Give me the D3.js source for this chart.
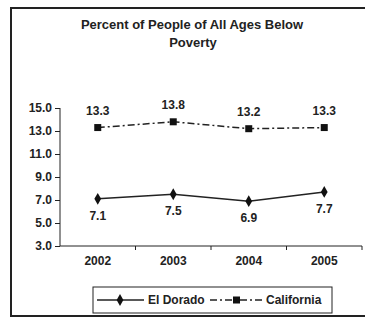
<!DOCTYPE html>
<html>
<head>
<meta charset="utf-8">
<script src="https://cdn.jsdelivr.net/npm/d3@7"></script>
<style>
  body { margin: 0; background: #fff; overflow: hidden; }
  text { font-family: "Liberation Sans", Arial, sans-serif; fill: #222; }
</style>
</head>
<body>
<div id="chart"></div>
<script>
var years = ["2002", "2003", "2004", "2005"];
var elDorado = [7.1, 7.5, 6.9, 7.7];
var california = [13.3, 13.8, 13.2, 13.3];
var yTicks = [3, 5, 7, 9, 11, 13, 15];

var width = 365, height = 318;

var svg = d3.select("#chart")
    .append("svg")
    .attr("width", width)
    .attr("height", height)
    .style("display", "block");

// outer frame (right side falls off the picture)
svg.append("rect")
    .attr("x", 11).attr("y", 8)
    .attr("width", 370).attr("height", 308)
    .attr("fill", "none")
    .attr("stroke", "#222")
    .attr("stroke-width", 2);

svg.append("text")
    .attr("x", 192).attr("y", 29)
    .attr("text-anchor", "middle")
    .style("font-size", "13px").style("font-weight", "bold")
    .text("Percent of People of All Ages Below");
svg.append("text")
    .attr("x", 193).attr("y", 47)
    .attr("text-anchor", "middle")
    .style("font-size", "13px").style("font-weight", "bold")
    .text("Poverty");

var x = d3.scaleBand().domain(years).range([60, 362]);
var y = d3.scaleLinear().domain([3, 15]).range([246, 108]);

var fs = "12px";

// y axis
var yAxis = svg.append("g")
    .attr("transform", "translate(60,0)")
    .call(d3.axisLeft(y).tickValues(yTicks).tickSize(5).tickPadding(3)
        .tickFormat(d3.format(".1f")));
yAxis.select(".domain").attr("stroke", "#222").attr("d", "M0," + y(15) + "V" + y(3));
yAxis.selectAll("line").attr("stroke", "#222");
yAxis.selectAll("text")
    .style("font-size", fs).style("font-weight", "bold")
    .style("font-family", "'Liberation Sans', Arial, sans-serif")
    .attr("fill", "#222");

// x axis, ticks on category boundaries
svg.append("line")
    .attr("x1", 60).attr("x2", 362)
    .attr("y1", 246).attr("y2", 246)
    .attr("stroke", "#222");
svg.selectAll(".xtick")
    .data(years)
    .enter().append("line")
    .attr("x1", function (d) { return x(d) + x.bandwidth(); })
    .attr("x2", function (d) { return x(d) + x.bandwidth(); })
    .attr("y1", 246).attr("y2", 250)
    .attr("stroke", "#222");
svg.selectAll(".xlabel")
    .data(years)
    .enter().append("text")
    .attr("x", function (d) { return x(d) + x.bandwidth() / 2; })
    .attr("y", 265)
    .attr("text-anchor", "middle")
    .style("font-size", fs).style("font-weight", "bold")
    .text(function (d) { return d; });

var cx = function (d, i) { return x(years[i]) + x.bandwidth() / 2; };

var line = d3.line()
    .x(function (d, i) { return cx(d, i); })
    .y(function (d) { return y(d); });

// California
svg.append("path")
    .datum(california)
    .attr("d", line)
    .attr("fill", "none")
    .attr("stroke", "#222")
    .attr("stroke-width", 1.5)
    .attr("stroke-dasharray", "7,3,2,3");
svg.selectAll(".sq")
    .data(california)
    .enter().append("rect")
    .attr("x", function (d, i) { return cx(d, i) - 3.5; })
    .attr("y", function (d) { return y(d) - 3.5; })
    .attr("width", 7).attr("height", 7)
    .attr("fill", "#111");
svg.selectAll(".calab")
    .data(california)
    .enter().append("text")
    .attr("x", cx)
    .attr("y", function (d) { return y(d) - 13; })
    .attr("text-anchor", "middle")
    .style("font-size", fs).style("font-weight", "bold")
    .text(function (d) { return d.toFixed(1); });

// El Dorado
svg.append("path")
    .datum(elDorado)
    .attr("d", line)
    .attr("fill", "none")
    .attr("stroke", "#222")
    .attr("stroke-width", 1.5);
var diamond = d3.symbol().type(d3.symbolDiamond).size(40);
svg.selectAll(".dm")
    .data(elDorado)
    .enter().append("path")
    .attr("d", diamond)
    .attr("transform", function (d, i) { return "translate(" + cx(d, i) + "," + y(d) + ")"; })
    .attr("fill", "#111");
svg.selectAll(".edlab")
    .data(elDorado)
    .enter().append("text")
    .attr("x", cx)
    .attr("y", function (d) { return y(d) + 21; })
    .attr("text-anchor", "middle")
    .style("font-size", fs).style("font-weight", "bold")
    .text(function (d) { return d.toFixed(1); });

// legend
var lg = svg.append("g");
lg.append("rect")
    .attr("x", 93).attr("y", 287)
    .attr("width", 239).attr("height", 26)
    .attr("fill", "none").attr("stroke", "#222").attr("stroke-width", 1);
lg.append("line")
    .attr("x1", 97).attr("x2", 144).attr("y1", 300).attr("y2", 300)
    .attr("stroke", "#222").attr("stroke-width", 1.5);
lg.append("path").attr("d", diamond)
    .attr("transform", "translate(120,300)").attr("fill", "#111");
lg.append("text")
    .attr("x", 148).attr("y", 304)
    .style("font-size", fs).style("font-weight", "bold")
    .text("El Dorado");
lg.append("line")
    .attr("x1", 210).attr("x2", 262).attr("y1", 300).attr("y2", 300)
    .attr("stroke", "#222").attr("stroke-width", 1.5)
    .attr("stroke-dasharray", "7,3,2,3");
lg.append("rect")
    .attr("x", 233).attr("y", 296.5).attr("width", 7).attr("height", 7)
    .attr("fill", "#111");
lg.append("text")
    .attr("x", 266).attr("y", 304)
    .style("font-size", fs).style("font-weight", "bold")
    .text("California");
</script>
</body>
</html>
